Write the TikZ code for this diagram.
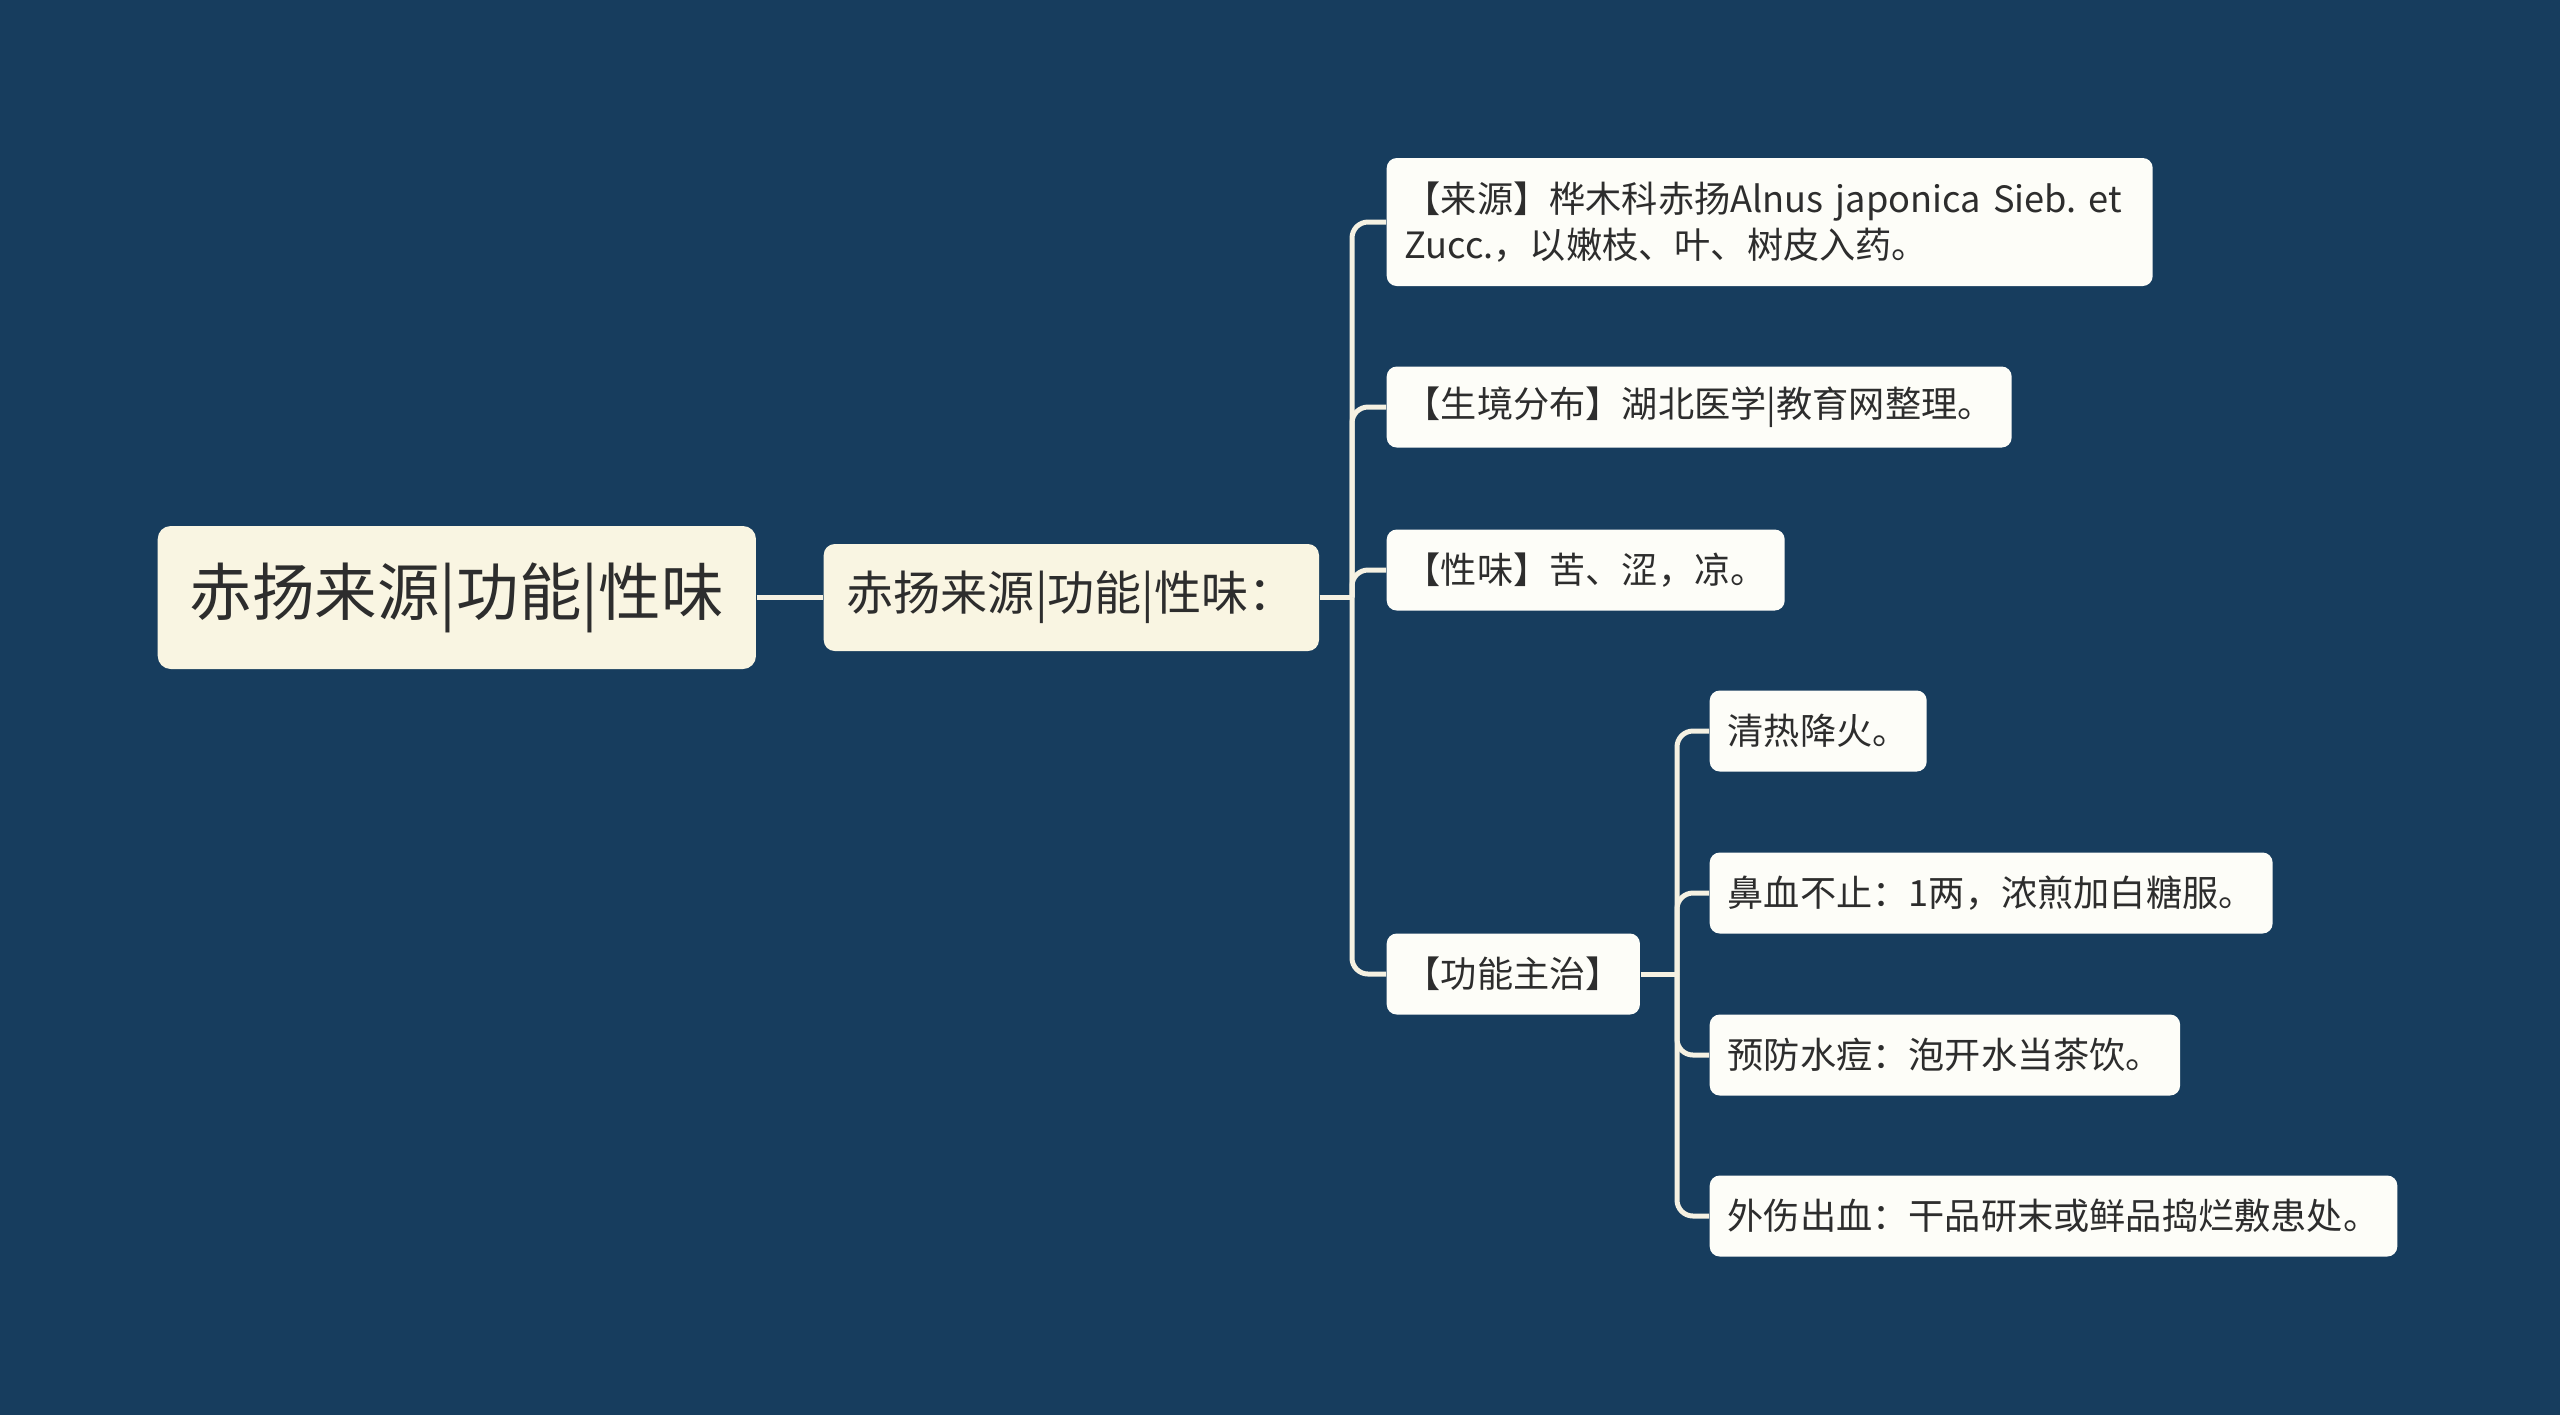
\documentclass[tikz,border=0pt]{standalone}
\usepackage{fontspec}
\setmainfont{Noto Sans CJK SC}
\usepackage{xcolor}
\usepackage{tikz}
\usetikzlibrary{positioning}

\definecolor{bgnavy}{RGB}{23,61,94}
\definecolor{rootcream}{RGB}{249,245,226}
\definecolor{leafwhite}{RGB}{253,253,248}
\definecolor{linecream}{RGB}{245,241,226}
\definecolor{textdark}{RGB}{45,45,45}

\begin{document}
\begin{tikzpicture}[x=0.1mm,y=-0.1mm]
        % Style cho các ô
        \tikzstyle{rootbox} = [
            fill=rootcream,
            text=textdark,
            rounded corners=1.3mm,
            inner xsep=3.2mm,
            inner ysep=0pt,
            minimum height=14.3mm,
            font=\fontsize{17.8pt}{21pt}\selectfont
        ]
        \tikzstyle{topicbox} = [
            fill=rootcream,
            text=textdark,
            rounded corners=1.1mm,
            inner xsep=2.3mm,
            inner ysep=0pt,
            minimum height=10.7mm,
            font=\fontsize{13.4pt}{16pt}\selectfont
        ]
        \tikzstyle{leafbox} = [
            fill=leafwhite,
            text=textdark,
            rounded corners=1mm,
            inner xsep=1.8mm,
            inner ysep=0pt,
            minimum height=8.1mm,
            align=left,
            font=\fontsize{10.3pt}{13.1pt}\selectfont\frenchspacing
        ]
        \tikzstyle{link} = [
            draw=linecream,
            line width=0.5mm,
            rounded corners=1.6mm
        ]

        % Nền
        \fill[bgnavy] (0,0) rectangle (2560,1415);
        \useasboundingbox (0,0) rectangle (2560,1415);

        % Chủ đề chính
        \node[rootbox, anchor=west] (root) at (157,597.5) {赤扬来源|功能|性味};
        \node[topicbox, anchor=west] (topic) at (823,597.5) {赤扬来源|功能|性味：};

        % Nhánh cấp 1
        \node[leafbox, anchor=west, minimum height=12.8mm, text width=73mm] (src) at (1386,222)
            {【来源】桦木科赤扬Alnus japonica Sieb. et\\Zucc.，以嫩枝、叶、树皮入药。};
        \node[leafbox, anchor=west] (habitat) at (1386,407) {【生境分布】湖北医学|教育网整理。};
        \node[leafbox, anchor=west] (taste) at (1386,570) {【性味】苦、涩，凉。};
        \node[leafbox, anchor=west] (func) at (1386,974) {【功能主治】};

        % Nhánh cấp 2
        \node[leafbox, anchor=west] (f1) at (1709,731) {清热降火。};
        \node[leafbox, anchor=west] (f2) at (1709,893) {鼻血不止：1两，浓煎加白糖服。};
        \node[leafbox, anchor=west] (f3) at (1709,1055) {预防水痘：泡开水当茶饮。};
        \node[leafbox, anchor=west] (f4) at (1709,1216) {外伤出血：干品研末或鲜品捣烂敷患处。};

        % Đường nối
        \draw[link] (root.east) -- (topic.west);
        \coordinate (j1) at (1352,597.5);
        \draw[link] (topic.east) -- (j1);
        \foreach \c in {src,habitat,taste,func}
            \draw[link] (j1) |- (\c.west);

        \coordinate (j2) at (1677,974);
        \draw[link] (func.east) -- (j2);
        \foreach \c in {f1,f2,f3,f4}
            \draw[link] (j2) |- (\c.west);

    \end{tikzpicture}
\end{document}
